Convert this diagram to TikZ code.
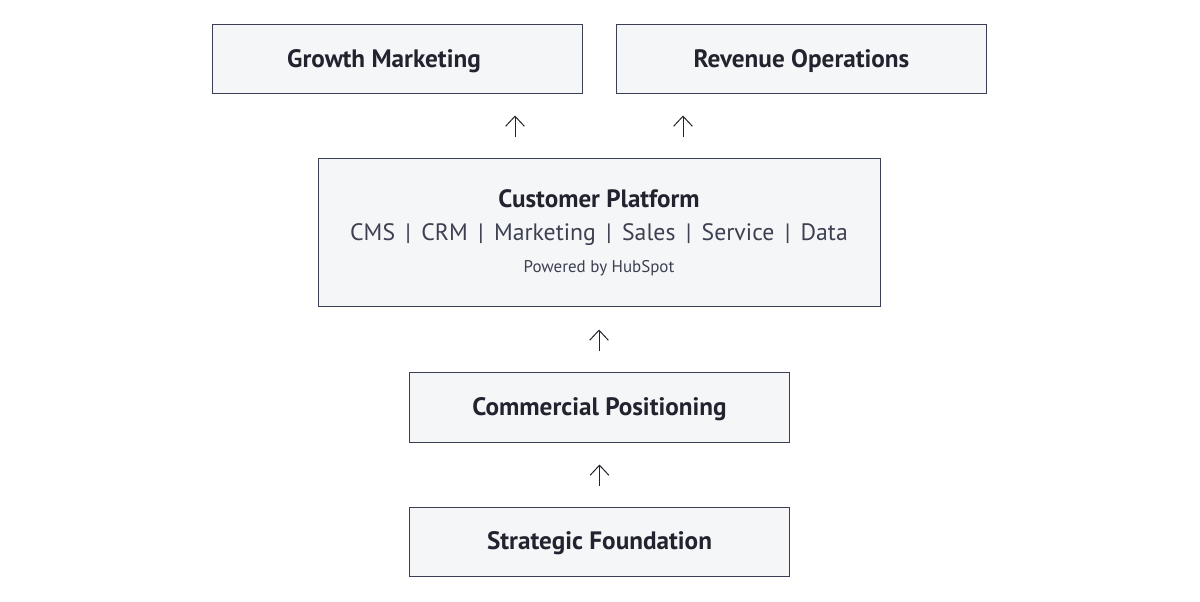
\documentclass[tikz,border=0pt]{standalone}
\usepackage{fontspec}
\setmainfont{PT Sans}
\usetikzlibrary{arrows.meta,calc}
\definecolor{boxfill}{HTML}{F5F6F8}
\definecolor{boxline}{HTML}{3B3F54}
\definecolor{inkdark}{HTML}{23232F}
\definecolor{inksoft}{HTML}{3D4050}
\tikzset{
  layer/.style={draw=boxline,fill=boxfill,line width=0.75pt,inner sep=0pt,
    text=inkdark,font=\bfseries\fontsize{18.9}{22}\selectfont,
    text height=12.6pt,text depth=0pt},
  layerwide/.style={layer,minimum width=277.5pt,minimum height=51.75pt},
  layermid/.style={layer,minimum width=285pt,minimum height=51.75pt},
  lift/.style={-{Straight Barb[length=7.5pt,width=14pt]},line width=0.75pt,draw=inkdark},
}
\begin{document}
\begin{tikzpicture}[x=0.75pt,y=-0.75pt]
  \useasboundingbox[fill=white] (0,0) rectangle (1200,602);
  % top row
  \node[layerwide] (growth) at (397,59.5) {Growth Marketing\hspace*{19.5pt}};
  \node[layerwide] (revops) at (801.5,59.5) {Revenue Operations};
  % platform
  \node[layer,minimum width=421.5pt,minimum height=111pt] (platform) at (599,233) {};
  \node[text=inkdark,font=\bfseries\fontsize{18.8}{22}\selectfont,text height=12.6pt,text depth=0pt,inner sep=0pt]
    (platformtitle) at (599,199.5) {Customer Platform};
  \node[text=inksoft,font=\fontsize{17.8}{20}\selectfont,text height=12.2pt,text depth=0pt,inner sep=0pt]
    (platformhubs) at (599,232.5) {CMS \,|\, CRM \,|\, Marketing \,|\, Sales \,|\, Service \,|\, Data};
  \node[text=inksoft,font=\fontsize{12.7}{15}\selectfont,text height=8.7pt,text depth=0pt,inner sep=0pt]
    (platformby) at (599,266.5) {Powered by HubSpot};
  % base
  \node[layermid] (commercial) at (599.5,407.5) {Commercial Positioning};
  \node[layermid] (strategic) at (599.5,541.5) {Strategic Foundation};
  % arrows
  \draw[lift,shorten <=15.75pt,shorten >=15.75pt] ([xshift=-63pt]platform.north) -- ([xshift=-63pt]platform.north |- growth.south);
  \draw[lift,shorten <=15.75pt,shorten >=15.75pt] ([xshift=63pt]platform.north) -- ([xshift=63pt]platform.north |- revops.south);
  \draw[lift,shorten <=15.75pt,shorten >=16.5pt] (commercial.north -| platform.south) -- (platform.south);
  \draw[lift,shorten <=15.75pt,shorten >=16.5pt] (strategic.north -| commercial.south) -- (commercial.south);
\end{tikzpicture}
\end{document}
